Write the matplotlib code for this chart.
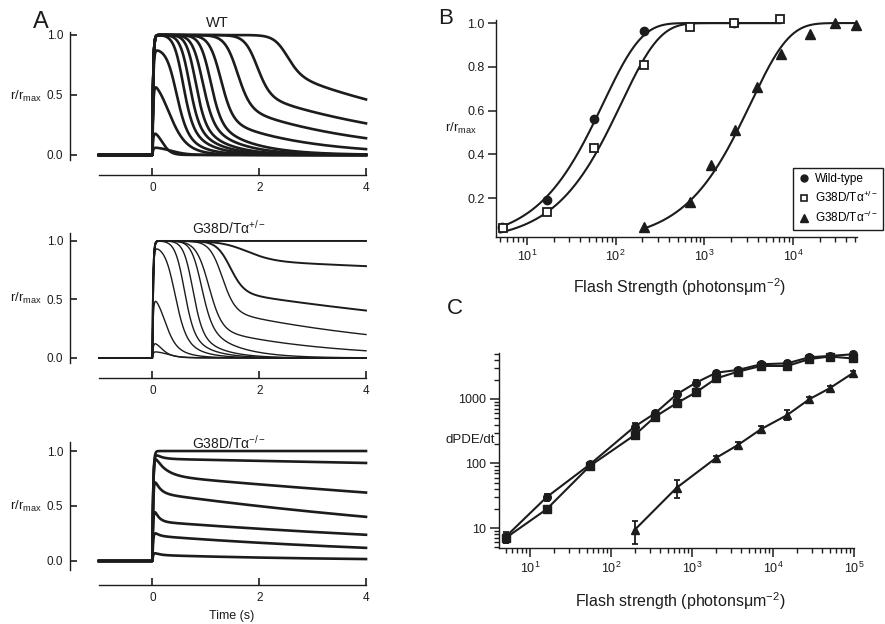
import numpy as np
import matplotlib.pyplot as plt
from matplotlib.lines import Line2D
from matplotlib.ticker import LogLocator, NullFormatter

plt.rcParams['font.family'] = ['Liberation Sans', 'DejaVu Sans']
plt.rcParams['mathtext.fontset'] = 'custom'
plt.rcParams['mathtext.rm'] = 'Liberation Sans'
plt.rcParams['mathtext.it'] = 'Liberation Sans:italic'
plt.rcParams['mathtext.bf'] = 'Liberation Sans:bold'
plt.rcParams['mathtext.sf'] = 'Liberation Sans'

INK = '#1c1c1c'

# ---- A: flash responses (one entry per trace) ----
# saturating model: amp, time of half-fall (s), fall width, tail level, tail tau
wt_amp = [0.07, 0.22, 0.62, 0.88, 1, 1, 1, 1, 1, 1, 1, 1, 1]
wt_tm = [0.35, 0.18, 0.25, 0.42, 0.55, 0.67, 0.79, 0.92, 1.07, 1.27, 1.58, 1.95, 2.5]
wt_w = [0.15, 0.08, 0.15, 0.10, 0.09, 0.09, 0.09, 0.10, 0.10, 0.11, 0.12, 0.12, 0.13]
wt_tail = [0, 0, 0.35, 0.3, 0.3, 0.3, 0.3, 0.3, 0.3, 0.3, 0.4, 0.5, 0.68]
wt_tau = [1, 1, 0.3, 0.35, 0.4, 0.45, 0.5, 0.6, 0.7, 1.5, 2.3, 3.2, 3.9]

het_amp = [0.06, 0.15, 0.55, 0.95, 1, 1, 1, 1, 1, 1, 1, 1]
het_tm = [0.3, 0.15, 0.2, 0.4, 0.58, 0.74, 0.9, 1.05, 1.3, 1.45, 1.75, 10]
het_w = [0.12, 0.08, 0.1, 0.1, 0.09, 0.09, 0.1, 0.12, 0.12, 0.13, 0.25, 1]
het_tail = [0, 0.2, 0.3, 0.25, 0.25, 0.25, 0.3, 0.25, 0.4, 0.56, 0.83, 1]
het_tau = [1, 0.3, 0.3, 0.35, 0.4, 0.45, 0.6, 2.1, 3.9, 7.9, 40, 100]

# Talpha-/- : fast amplitude, fast tau, slow amplitude, slow tau
ko_fast = [0.03, 0.06, 0.19, 0.2, 0.22, 0.07, 0.0]
ko_ftau = [0.1, 0.08, 0.08, 0.1, 0.2, 0.12, 0.1]
ko_slow = [0.055, 0.23, 0.36, 0.62, 0.78, 0.93, 1.0]
ko_stau = [3.5, 6.1, 9.7, 9.2, 17.7, 94, 1e6]

# ---- B: normalised amplitude vs flash strength ----
b_wt_x = [5.2, 17, 57, 210, 2150]
b_wt_y = [0.07, 0.19, 0.56, 0.965, 1.0]
b_het_x = [5.3, 17, 57, 210, 690, 2150, 7200]
b_het_y = [0.065, 0.137, 0.43, 0.81, 0.98, 1.0, 1.017]
b_ko_x = [210, 690, 1180, 2200, 3900, 7400, 15500, 29500, 52000]
b_ko_y = [0.07, 0.18, 0.35, 0.51, 0.71, 0.86, 0.95, 1.0, 0.99]
fit_half = [50, 80, 2300]
fit_from = [5, 5, 210]
fit_to = [7200, 7200, 52000]

# ---- C: dPDE/dt vs flash strength ----
c_x = [5, 16, 55, 195, 350, 645, 1120, 2000, 3700, 7100, 15000, 28000, 50000, 96000]
c_wt = [7.3, 30, 97, 372, 600, 1180, 1790, 2560, 2820, 3450, 3570, 4430, 4640, 4930]
c_wt_err = [1.4, 4, 8, 45, 50, 150, 150, 200, 200, 250, 300, 350, 350, 400]
c_het = [7.0, 19.5, 92, 275, 530, 860, 1270, 2090, 2650, 3250, 3250, 4150, 4550, 4250]
c_het_err = [1.2, 2.5, 8, 35, 45, 100, 120, 150, 200, 250, 300, 350, 350, 400]
c_ko_x = [195, 645, 2000, 3700, 7100, 15000, 28000, 50000, 96000]
c_ko = [9.3, 42, 123, 194, 340, 565, 990, 1465, 2500]
c_ko_err = [3.7, 13, 10, 20, 40, 100, 80, 120, 200]

W, H = 885, 624
fig = plt.figure(figsize=(W / 100, H / 100), dpi=100)


def box(x0, y0, x1, y1):
    return [x0 / W, 1 - y1 / H, (x1 - x0) / W, (y1 - y0) / H]


def fp(x, y):
    return (x / W, 1 - y / H)


def rise(t, tr=0.015):
    return np.where(t > 0, 1 - np.exp(-np.clip(t, 0, None) / tr), 0.0)


def sat_trace(t, amp, tm, w, c, tc):
    s = 1 / (1 + np.exp((t - tm) / w))
    tail = np.minimum(1.0, c * np.exp(-(t - tm) / tc))
    return amp * rise(t) * (s + (1 - s) * tail)


def ko_trace(t, af, tf, a_s, ts):
    tt = np.clip(t, 0, None)
    return rise(t) * (af * np.exp(-tt / tf) + a_s * np.exp(-tt / ts))


t = np.linspace(-1, 4, 1600)

panels = [
    (box(99, 32, 366, 160), (-0.042, 1.025), 'WT', (217, 23), 10.5),
    (box(99, 233, 366, 363), (-0.043, 1.068), 'G38D/Tα$^{+/-}$', (229, 228), 10),
    (box(99, 442, 366, 570), (-0.082, 1.082), 'G38D/Tα$^{-/-}$', (229, 443), 10),
]
label_y = [96, 298, 506]

for i, (rect, ylim, title, txy, tfs) in enumerate(panels):
    ax = fig.add_axes(rect)
    ax.set_xlim(-1, 4)
    ax.set_ylim(*ylim)
    ax.patch.set_visible(False)
    for side in ['top', 'right']:
        ax.spines[side].set_visible(False)
    ax.spines['left'].set_position(('outward', 29 * 0.72))
    ax.spines['bottom'].set_position(('outward', 15 * 0.72))
    for side in ['left', 'bottom']:
        ax.spines[side].set_linewidth(1.0)
        ax.spines[side].set_color(INK)
    ax.set_yticks([0, 0.5, 1.0])
    ax.set_yticklabels(['0.0', '0.5', '1.0'])
    ax.set_xticks([0, 2, 4])
    ax.tick_params(direction='in', length=5, width=1.2, labelsize=8.5,
                   colors=INK, pad=5)

    if i == 0:
        for k in range(len(wt_amp)):
            ax.plot(t, sat_trace(t, wt_amp[k], wt_tm[k], wt_w[k], wt_tail[k], wt_tau[k]),
                    color=INK, lw=1.9, clip_on=False)
    elif i == 1:
        for k in range(len(het_amp)):
            lw = 1.0 if k < 9 else 1.4
            ax.plot(t, sat_trace(t, het_amp[k], het_tm[k], het_w[k], het_tail[k], het_tau[k]),
                    color=INK, lw=lw, clip_on=False)
    else:
        for k in range(len(ko_fast)):
            ax.plot(t, ko_trace(t, ko_fast[k], ko_ftau[k], ko_slow[k], ko_stau[k]),
                    color=INK, lw=1.9, clip_on=False)

    fig.text(*fp(*txy), title, ha='center', va='center', fontsize=tfs, color=INK)
    fig.text(*fp(26, label_y[i]), 'r/r$_{\\rm max}$', ha='center', va='center',
             fontsize=9.5, color=INK)

fig.text(*fp(232, 616), 'Time (s)', ha='center', va='center', fontsize=9, color=INK)
fig.text(*fp(41, 22), 'A', ha='center', va='center', fontsize=17, color=INK)

# ---- panel B ----
axB = fig.add_axes(box(496, 20, 857, 237))
axB.set_xscale('log')
axB.set_xlim(4.47, 5.27e4)
axB.set_ylim(0.022, 1.014)
for side in ['top', 'right']:
    axB.spines[side].set_visible(False)
for side in ['left', 'bottom']:
    axB.spines[side].set_linewidth(1.0)
    axB.spines[side].set_color(INK)
axB.set_yticks([0.2, 0.4, 0.6, 0.8, 1.0])
axB.set_yticklabels(['0.2', '0.4', '0.6', '0.8', '1.0'])
axB.xaxis.set_major_locator(LogLocator(base=10, numticks=10))
axB.xaxis.set_minor_locator(LogLocator(base=10, subs=np.arange(2, 10), numticks=50))
axB.xaxis.set_minor_formatter(NullFormatter())
axB.tick_params(which='major', direction='out', length=6, width=1.1,
                labelsize=9, colors=INK, pad=2.5)
axB.tick_params(which='minor', direction='out', length=3.5, width=1.0, colors=INK)
axB.tick_params(axis='y', length=5.5)

for half, lo, hi in zip(fit_half, fit_from, fit_to):
    xs = np.logspace(np.log10(lo), np.log10(hi), 300)
    axB.plot(xs, 1 - np.exp(-np.log(2) * xs / half), color=INK, lw=1.5, clip_on=False)

axB.plot(b_wt_x, b_wt_y, 'o', color=INK, ms=6, clip_on=False)
axB.plot(b_het_x, b_het_y, 's', mfc='white', mec=INK, mew=1.3, ms=5.5, clip_on=False)
axB.plot(b_ko_x, b_ko_y, '^', color=INK, ms=6.5, clip_on=False)

handles = [Line2D([], [], marker='o', ls='none', color=INK, ms=5),
           Line2D([], [], marker='s', ls='none', mfc='white', mec=INK, mew=1.2, ms=4.5),
           Line2D([], [], marker='^', ls='none', color=INK, ms=5.5)]
leg = fig.legend(handles, ['Wild-type', 'G38D/Tα$^{+/-}$', 'G38D/Tα$^{-/-}$'],
                 loc='upper left', bbox_to_anchor=fp(793, 168),
                 bbox_transform=fig.transFigure, fontsize=8.5, frameon=True,
                 fancybox=False, edgecolor=INK, framealpha=1, borderpad=0.45,
                 handlelength=0.9, handletextpad=0.5, labelspacing=0.4,
                 borderaxespad=0)
leg.get_frame().set_linewidth(1.0)

fig.text(*fp(461, 128), 'r/r$_{\\rm max}$', ha='center', va='center', fontsize=9.5, color=INK)
fig.text(*fp(680, 287), 'Flash Strength (photonsμm$^{-2}$)', ha='center', va='center',
         fontsize=11.5, color=INK)
fig.text(*fp(446, 18), 'B', ha='center', va='center', fontsize=16, color=INK)

# ---- panel C ----
axC = fig.add_axes(box(499, 353, 854, 548))
axC.set_xscale('log')
axC.set_yscale('log')
axC.set_xlim(4.14, 1e5)
axC.set_ylim(4.9, 5160)
for side in ['top', 'right']:
    axC.spines[side].set_visible(False)
for side in ['left', 'bottom']:
    axC.spines[side].set_linewidth(1.0)
    axC.spines[side].set_color(INK)
axC.xaxis.set_major_locator(LogLocator(base=10, numticks=10))
axC.xaxis.set_minor_locator(LogLocator(base=10, subs=np.arange(2, 10), numticks=50))
axC.xaxis.set_minor_formatter(NullFormatter())
axC.set_yticks([10, 100, 1000])
axC.set_yticklabels(['10', '100', '1000'])
axC.yaxis.set_minor_locator(LogLocator(base=10, subs=np.arange(2, 10), numticks=50))
axC.yaxis.set_minor_formatter(NullFormatter())
axC.tick_params(which='major', direction='out', length=6.5, width=1.1,
                labelsize=9, colors=INK, pad=2.5)
axC.tick_params(which='minor', direction='out', length=3.5, width=1.0, colors=INK)

ebkw = dict(color=INK, lw=1.5, capsize=2.5, elinewidth=1.3, capthick=1.3, clip_on=False)
axC.errorbar(c_x, c_het, yerr=c_het_err, fmt='-s', ms=5.5, **ebkw)
axC.errorbar(c_x, c_wt, yerr=c_wt_err, fmt='-o', ms=5.5, **ebkw)
axC.errorbar(c_ko_x, c_ko, yerr=c_ko_err, fmt='-^', ms=6, **ebkw)

fig.text(*fp(445, 440), 'dPDE/dt', ha='left', va='center', fontsize=9.5, color=INK)
fig.text(*fp(680, 601), 'Flash strength (photonsμm$^{-2}$)', ha='center', va='center',
         fontsize=11.5, color=INK)
fig.text(*fp(455, 308), 'C', ha='center', va='center', fontsize=16, color=INK)

fig.savefig('out.png', dpi=100, facecolor='white')
